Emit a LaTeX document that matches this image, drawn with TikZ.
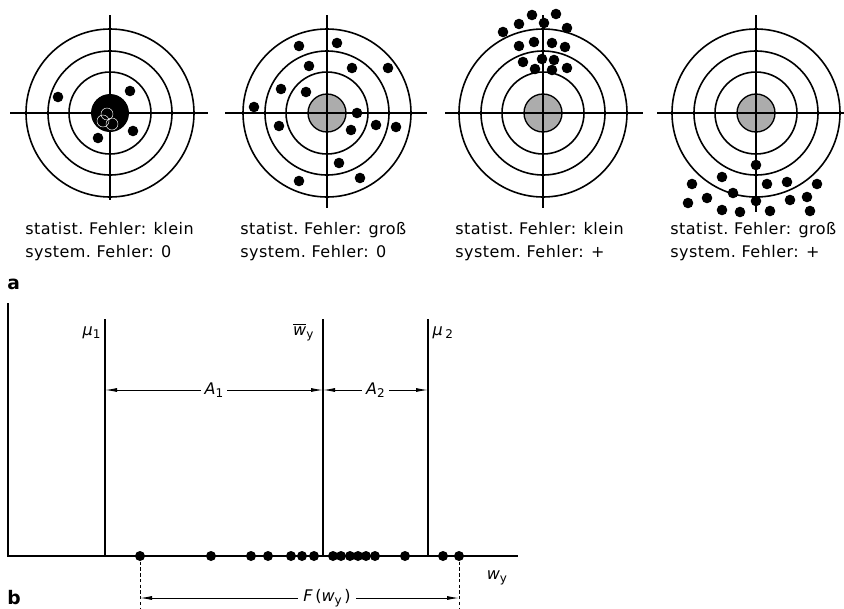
\documentclass[tikz,border=0pt]{standalone}
\usepackage{amsmath}
\usepackage{fontspec}
\setmainfont[LetterSpace=3]{DejaVu Sans}
\usetikzlibrary{arrows.meta}
\definecolor{discgray}{RGB}{172,172,172}
\newcommand{\lowidx}[1]{\raisebox{-0.4ex}{\fontsize{9}{9}\selectfont\upshape #1}}

\begin{document}
\begin{tikzpicture}[
    x=0.75pt, y=-0.75pt,
    ring/.style={line width=1.2pt},
    cross/.style={line width=0.8pt},
    bull/.style={draw=black, line width=1pt, fill=discgray},
    hit/.style={fill=black},
    caption/.style={anchor=base west, align=left, inner sep=0pt, font=\fontsize{12}{17.25}\selectfont},
    axisline/.style={line width=1.1pt},
    markline/.style={line width=1.8pt},
    bdot/.style={circle, fill=black, inner sep=0pt, minimum size=7.5pt},
    dim/.style={line width=0.7pt, {Latex[length=9pt,width=3pt]}-{Latex[length=9pt,width=3pt]}},
    dimone/.style={line width=0.7pt, -{Latex[length=9pt,width=3pt]}},
    lbl/.style={font=\fontsize{12}{12}\selectfont},
    tag/.style={anchor=base west, inner sep=0pt, font=\fontsize{14}{14}\selectfont\bfseries}
]
    \useasboundingbox (0,0) rectangle (844,608);

    % part a: targets
    \coordinate (t1) at (110,113);
    \coordinate (t2) at (327,113);
    \coordinate (t3) at (543,113);
    \coordinate (t4) at (756,113);

    \foreach \t in {t2,t3,t4}
        \draw[bull] (\t) circle (19);
    \foreach \t in {t1,t2,t3,t4}
        \foreach \r in {41,62,84}
            \draw[ring] (\t) circle (\r);

    \draw[cross] (110,15) -- (110,200) (10,113) -- (208,113);
    \draw[cross] (327,15) -- (327,208) (225,113) -- (427,113);
    \draw[cross] (543,15) -- (543,208) (445,113) -- (643,113);
    \draw[cross] (756,15) -- (756,212) (657,113) -- (844,113);

    % cluster in the middle of target 1
    \fill (t1) circle (19);
    \foreach \dx/\dy in {-7/8, 2/11, -3/1}
        \draw[white, line width=0.35pt] ([shift={(\dx,\dy)}]t1) circle (6);

    \foreach \x/\y in {58/97, 130/91, 133/131, 98/138}
        \fill[hit] (\x,\y) circle (5.3);
    \foreach \x/\y in {299/46, 337/43, 309/66, 352/68, 388/68, 281/89, 306/92, 254/107,
                       357/113, 279/126, 376/125, 396/127, 351/130, 339/163, 299/181, 360/178}
        \fill[hit] (\x,\y) circle (5.3);
    \foreach \x/\y in {532/15, 556/14, 519/24, 544/23, 503/32, 567/28, 519/46, 534/42,
                       552/43, 565/47, 523/62, 542/59, 554/60, 535/69, 552/70, 567/68}
        \fill[hit] (\x,\y) circle (5.3);
    \foreach \x/\y in {756/165, 722/177, 692/184, 767/184, 787/182, 817/184, 733/193, 707/198,
                       756/201, 790/200, 807/197, 688/203, 722/210, 740/212, 770/211, 810/211}
        \fill[hit] (\x,\y) circle (5.3);

    \node[caption] (c1) at (25,257) {statist.\ Fehler: klein\\system.\ Fehler: 0};
    \node[caption] (c2) at (240,257) {statist.\ Fehler: groß\\system.\ Fehler: 0};
    \node[caption] (c3) at (455,257) {statist.\ Fehler: klein\\system.\ Fehler: +};
    \node[caption] (c4) at (670,257) {statist.\ Fehler: groß\\system.\ Fehler: +};

    \node[tag] (a) at (7,289) {a};

    % part b: values on the axis
    \coordinate (top) at (8,303);
    \coordinate (o) at (8,556);
    \coordinate (e) at (518,556);
    \draw[axisline] (top) -- (o) -- (e);

    \coordinate (m1) at (105,319);
    \coordinate (wb) at (323,319);
    \coordinate (m2) at (428,319);
    \foreach \c in {m1,wb,m2}
        \draw[markline] (\c) -- (\c |- o);

    \node[lbl, anchor=base east, inner sep=1pt] (lm1) at (102,335) {\itshape μ\lowidx{1}};
    \node[lbl, anchor=base east, inner sep=1pt] (lwb) at (315,335) {$\overline{\text{\itshape w}}$\lowidx{y}};
    \node[lbl, anchor=base west, inner sep=1pt] (lm2) at (431,335) {\itshape μ\,\lowidx{2}};

    \coordinate (arow) at (0,390);
    \draw[dim] (m1 |- arow) -- node[lbl, fill=white, inner sep=3pt] (A1) {\itshape A\lowidx{1}} (wb |- arow);
    \draw[dim] (wb |- arow) -- node[lbl, fill=white, inner sep=3pt] (A2) {\itshape A\lowidx{2}} (m2 |- arow);

    \foreach \x [count=\i] in {140,211,251,268,291,302,314,333,341,350,358,366,375,405,443,459}
        \node[bdot] (d\i) at (\x,556) {};

    \coordinate (fl) at (140,608);
    \coordinate (fr) at (459,608);
    \draw[line width=0.6pt, dash pattern=on 2.5pt off 1.8pt] (d1.center) -- (fl);
    \draw[line width=0.6pt, dash pattern=on 2.5pt off 1.8pt] (d16.center) -- (fr);

    \node[lbl, inner sep=4pt] (F) at (327,598) {\itshape F\upshape\,(\itshape w\lowidx{y}\upshape\,)};
    \draw[dimone] (F) -- (d1 |- F);
    \draw[dimone] (F) -- (d16 |- F);

    \node[lbl] (wy) at (497,578) {\itshape w\lowidx{y}};
    \node[tag] (b) at (7,604) {b};
\end{tikzpicture}
\end{document}
